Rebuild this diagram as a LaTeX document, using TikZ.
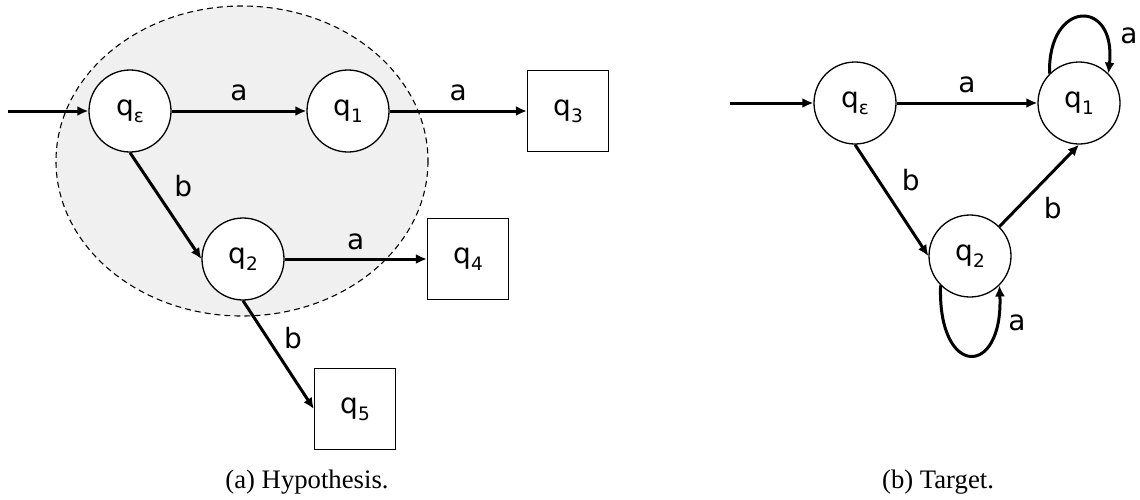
\documentclass[tikz,border=0pt]{standalone}
\usepackage{fontspec}
\setmainfont{Liberation Serif}
\newfontfamily\labelfont{DejaVu Sans}
\usetikzlibrary{arrows.meta}
\definecolor{shade}{HTML}{F0F0F0}
\newcommand\qsb[1]{q\raisebox{-7pt}[0pt][0pt]{\fontsize{18.5}{19}\selectfont #1}}
\tikzset{
  state/.style={draw, circle, line width=1.3pt, minimum size=82pt, inner sep=0pt, fill=white, font=\labelfont\fontsize{28}{32}\selectfont},
  sink/.style={draw, rectangle, line width=1.3pt, minimum size=81pt, inner sep=0pt, fill=white, font=\labelfont\fontsize{28}{32}\selectfont},
  trans/.style={line width=3pt, -{Latex[length=11pt,width=10pt]}},
  lbl/.style={font=\labelfont\fontsize{28}{32}\selectfont, inner sep=0pt, anchor=center},
  captext/.style={font=\fontsize{26.7}{30}\selectfont, inner sep=0pt, anchor=base},
  region/.style={draw, line width=1.1pt, fill=shade, dash pattern=on 6pt off 4pt}
}
\begin{document}
\begin{tikzpicture}[x=1pt,y=-1pt]
\useasboundingbox (0,0) rectangle (1140,499);
% ---- (a) Hypothesis ----
\draw[region] (242,161) ellipse [x radius=186, y radius=155];
\node[state] (ha) at (130,111) {\qsb{ε}};
\node[state] (h1) at (348,111) {\qsb{1}};
\node[state] (h2) at (243,259) {\qsb{2}};
\node[sink] (h3) at (568,111) {\qsb{3}};
\node[sink] (h4) at (468,259) {\qsb{4}};
\node[sink] (h5) at (355,409) {\qsb{5}};
\coordinate (hin) at (8,111);
\draw[trans] (hin) -- (ha.west);
\draw[trans] (ha.east) -- node[lbl, yshift=18pt] {a} (h1.west);
\draw[trans] (h1.east) -- node[lbl, yshift=18pt] {a} (h3.west);
\draw[trans] (ha.south) -- node[lbl, xshift=17.5pt, yshift=20pt] {b} (h2.west);
\draw[trans] (h2.east) -- node[lbl, yshift=17pt] {a} (h4.west);
\draw[trans] (h2.south) -- node[lbl, xshift=14.5pt, yshift=16.5pt] {b} (h5.west);
\node[captext] (capa) at (307,488) {(a) Hypothesis.};
% ---- (b) Target ----
\node[state] (ta) at (855,103) {\qsb{ε}};
\node[state] (t1) at (1079,103) {\qsb{1}};
\node[state] (t2) at (970,256) {\qsb{2}};
\coordinate (tin) at (730,103);
\draw[trans] (tin) -- (ta.west);
\draw[trans] (ta.east) -- node[lbl, yshift=18pt] {a} (t1.west);
\draw[trans] (ta.south) -- node[lbl, xshift=19pt, yshift=20pt] {b} (t2.west);
\draw[trans] (t2.45) -- node[lbl, xshift=13.5pt, yshift=-22.5pt] {b} (t1.south);
\draw[trans] (t1.135) .. controls +(-2,-74) and +(8,-76) .. (t1.45);
\node[lbl] (t1l) at (1129,36) {a};
\draw[trans] (t2.225) .. controls +(-3,93) and +(4,93) .. (t2.315);
\node[lbl] (t2l) at (1017,323) {a};
\node[captext] (capb) at (938,488) {(b) Target.};
\end{tikzpicture}
\end{document}
